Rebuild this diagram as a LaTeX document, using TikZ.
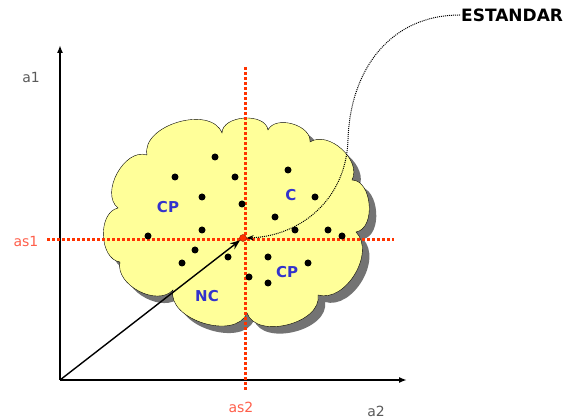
\documentclass[tikz,border=0pt]{standalone}
\usepackage{fontspec}
\setmainfont{DejaVu Sans}
\usetikzlibrary{arrows.meta}

\definecolor{cloudfill}{RGB}{255,255,153}
\definecolor{gridred}{RGB}{255,51,0}
\definecolor{tagblue}{RGB}{51,51,204}
\definecolor{axisgray}{RGB}{90,90,90}
\definecolor{tagred}{RGB}{255,95,75}

% outline of the cloud (pixel units, y pointing down)
\newcommand{\cloudpath}{(118,208) to[bend left=80] (147,155) to[bend left=85] (222,133)
  to[bend left=85] (268,130) to[bend left=80] (310,142) to[bend left=75] (352,180)
  to[bend left=85] (356,232) to[bend left=75] (318,295) to[bend left=85] (247,313)
  to[bend left=85] (173,290) to[bend left=75] (120,262) to[bend left=80] (118,208) -- cycle}

\begin{document}
\begin{tikzpicture}[
    x=1pt, y=-1pt,
    dot/.style={circle, fill=black, inner sep=0pt, minimum size=7pt},
    axislbl/.style={text=axisgray, font=\fontsize{14}{14}\selectfont},
    redlbl/.style={text=tagred, font=\fontsize{14}{14}\selectfont},
    zonelbl/.style={text=tagblue, font=\bfseries\fontsize{15}{15}\selectfont},
    redgrid/.style={gridred, line width=3pt, dash pattern=on 3pt off 2pt}
]
    \useasboundingbox (0,0) rectangle (587,419);

    % Axes
    \coordinate (o) at (60,380);
    \coordinate (ytop) at (60,45);
    \coordinate (xend) at (407,380);
    \draw[line width=1.6pt, -{Latex[length=8pt]}] (o) -- (ytop);
    \draw[line width=1.6pt, -{Latex[length=8pt]}] (o) -- (xend);
    \node[axislbl] (a1) at (31,78) {a1};
    \node[axislbl] (a2) at (376,411) {a2};

    % Cloud with shadow
    \fill[black!55, shift={(7,7)}] \cloudpath;
    \filldraw[fill=cloudfill, draw=black, thin] \cloudpath;

    % Threshold lines
    \coordinate (h1) at (47,240);
    \coordinate (h2) at (394,240);
    \coordinate (v1) at (245,67);
    \coordinate (v2) at (245,390);
    \draw[redgrid] (h1) -- (h2);
    \draw[redgrid] (v1) -- (v2);
    \node[redlbl] (as1) at (26,241) {as1};
    \node[redlbl] (as2) at (241,407) {as2};

    % Points
    \foreach \x/\y [count=\i] in {215/157, 175/177, 235/177, 202/197, 242/204,
        288/170, 315/197, 275/217, 295/230, 328/230, 342/236, 148/236,
        202/230, 195/250, 182/263, 228/257, 268/257, 308/263, 249/277, 268/283}
        \node[dot] (d\i) at (\x,\y) {};

    % Zones
    \node[zonelbl] (cp1) at (168,207) {CP};
    \node[zonelbl] (cz) at (291,195) {C};
    \node[zonelbl] (cp2) at (287,272) {CP};
    \node[zonelbl] (nc) at (207,296) {NC};

    % Standard point
    \node[circle, fill=gridred, draw=gridred!60!black, inner sep=0pt, minimum size=7pt] (c) at (243,238) {};
    \draw[line width=1.4pt, -{Stealth[length=10pt]}] (o) -- (c);

    % Label with dotted leader
    \node[font=\bfseries\fontsize{17}{17}\selectfont, anchor=west, inner sep=1pt] (est) at (460,15) {ESTANDAR};
    \draw[densely dotted, line width=1pt, -{Stealth[length=7pt]}] (est.west)
        .. controls (390,15) and (350,70) .. (348,140)
        .. controls (346,200) and (300,236) .. (c.east);
\end{tikzpicture}
\end{document}
